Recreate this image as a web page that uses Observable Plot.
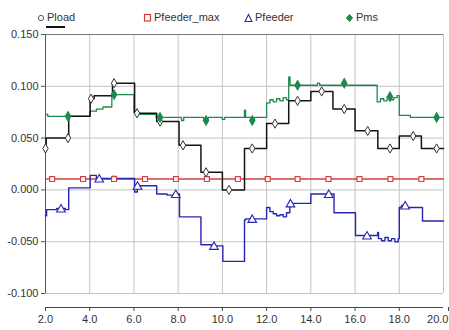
<!DOCTYPE html>
<html>
<head>
<meta charset="utf-8">
<script src="https://cdn.jsdelivr.net/npm/d3@7"></script>
<script src="https://cdn.jsdelivr.net/npm/@observablehq/plot@0.6"></script>
<style>
  html, body { margin: 0; padding: 0; background: #fff; }
  #wrap { width: 449px; height: 330px; position: relative; overflow: hidden; }
  #legend { position: relative; height: 26px; font-family: "Liberation Sans Narrow", "Arial Narrow", "Liberation Sans", Arial, sans-serif; font-size: 11px; color: #333; }
  .item { position: absolute; top: 10px; line-height: 14px; white-space: nowrap; }
  .item svg { vertical-align: -2px; margin-right: 2px; }
  #ul { position: absolute; left: 46px; top: 26px; width: 19px; height: 2px; background: #111; }
</style>
</head>
<body>
<div id="wrap">
  <div id="legend">
    <div class="item" style="left:37px"><svg width="8" height="10"><circle cx="4" cy="5" r="2.6" fill="#fff" stroke="#555" stroke-width="1"/></svg>Pload</div>
    <div id="ul"></div>
    <div class="item" style="left:143px"><svg width="9" height="10"><rect x="1.5" y="1.5" width="6" height="6.5" fill="#fff" stroke="#d23a3a" stroke-width="1.2"/></svg>Pfeeder_max</div>
    <div class="item" style="left:244px"><svg width="9" height="10"><path d="M4.5,1.5 L8,8.5 L1,8.5 Z" fill="#fff" stroke="#2a2aa8" stroke-width="1.1"/></svg>Pfeeder</div>
    <div class="item" style="left:345px"><svg width="9" height="10"><path d="M4.5,1.5 L7.5,5 L4.5,8.5 L1.5,5 Z" fill="#1b8a4c" stroke="#1b8a4c"/></svg>Pms</div>
  </div>
  <div id="chart"></div>
</div>
<script>
// ---- data ----
const xTicks = [2, 4, 6, 8, 10, 12, 14, 16, 18, 20];
const yTicks = [-0.1, -0.05, 0, 0.05, 0.1, 0.15];

// Pload (step breakpoints)
const ploadT = [2.0, 2.03, 3.05, 4.02, 4.2, 5.03, 6.03, 7.03, 8.04, 9.03, 10.0, 11.0, 12.0, 13.0, 14.0, 15.0, 16.0, 17.03, 18.0, 19.0, 20.0];
const ploadV = [0.040, 0.050, 0.071, 0.088, 0.091, 0.103, 0.074, 0.066, 0.043, 0.017, 0.000, 0.040, 0.064, 0.086, 0.095, 0.078, 0.057, 0.040, 0.052, 0.040, 0.040];
const ploadMarkT = [2.0, 3.02, 4.06, 5.1, 6.14, 7.18, 8.22, 9.26, 10.3, 11.35, 12.38, 13.4, 14.49, 15.51, 16.57, 17.58, 18.63, 19.69];

// Pfeeder_max
const pmaxT = [2.0, 20.0];
const pmaxV = [0.0105, 0.0105];
const pmaxMarkT = [2.3, 3.7, 5.1, 6.5, 7.9, 9.3, 10.7, 12.05, 13.4, 14.8, 16.2, 17.6, 19.0];

// Pfeeder
const pfeedT = [2.0, 2.05, 2.5, 2.9, 3.05, 4.02, 4.3, 5.0, 5.2, 6.03, 6.15, 7.03, 7.5, 7.8, 8.06, 9.03, 9.5, 10.02, 11.0, 11.05, 12.0, 12.15, 12.3, 12.45, 12.6, 12.75, 12.9, 13.05, 14.0, 15.05, 16.02, 17.02, 17.06, 17.2, 17.35, 17.5, 17.65, 17.8, 17.95, 18.0, 18.1, 18.35, 19.05, 20.0];
const pfeedV = [-0.025, -0.019, -0.018, -0.019, 0.002, 0.014, 0.011, 0.013, 0.011, -0.002, 0.004, -0.004, -0.005, -0.004, -0.026, -0.053, -0.054, -0.069, -0.029, -0.028, -0.017, -0.021, -0.023, -0.025, -0.024, -0.026, -0.022, -0.013, -0.004, -0.022, -0.044, -0.041, -0.047, -0.049, -0.046, -0.049, -0.047, -0.050, -0.047, -0.017, -0.015, -0.017, -0.030, -0.030];
const pfeedMarkT = [2.7, 4.43, 6.16, 7.89, 9.62, 11.35, 13.08, 14.81, 16.54, 18.27];

// Pms
const pmsT = [2.0, 2.1, 4.0, 4.3, 4.6, 5.0, 6.0, 6.2, 7.0, 8.15, 8.25, 9.15, 9.35, 10.0, 10.1, 11.0, 11.05, 11.3, 11.45, 12.0, 12.15, 12.3, 12.45, 12.6, 12.75, 12.9, 13.0, 13.06, 14.3, 14.4, 15.5, 15.6, 17.0, 17.15, 17.3, 17.45, 17.6, 17.75, 17.9, 18.0, 18.5, 20.0];
const pmsV = [0.073, 0.071, 0.076, 0.078, 0.080, 0.092, 0.075, 0.073, 0.070, 0.067, 0.070, 0.067, 0.070, 0.068, 0.070, 0.077, 0.070, 0.067, 0.070, 0.084, 0.087, 0.085, 0.088, 0.086, 0.089, 0.087, 0.109, 0.101, 0.103, 0.101, 0.103, 0.101, 0.085, 0.088, 0.086, 0.090, 0.087, 0.089, 0.091, 0.072, 0.070, 0.070];
const pmsMarkT = [3.02, 5.1, 7.18, 9.26, 11.35, 13.4, 15.51, 17.58, 19.69];

// ---- helpers ----
const rows = (T, V) => T.map((t, i) => ({t, v: V[i]}));
function stepAt(T, V, t) { let v = V[0]; for (let i = 0; i < T.length; i++) if (T[i] <= t) v = V[i]; return v; }
const marks = (MT, T, V) => MT.map(t => ({t, v: stepAt(T, V, t)}));

const cBlack = "#151515", cRed = "#d94040", cBlue = "#2626b0", cGreen = "#1c8a4e";
const font = '"Liberation Sans Narrow", "Arial Narrow", "Liberation Sans", Arial, sans-serif';

const chart = Plot.plot({
  width: 449,
  height: 304,
  marginTop: 8,
  marginBottom: 23,
  marginLeft: 45,
  marginRight: 6,
  style: {fontFamily: font, fontSize: "11px", color: "#333", background: "#fff"},
  x: {domain: [2, 20], axis: null},
  y: {domain: [-0.1135, 0.15], axis: null},
  marks: [
    Plot.gridY(yTicks, {x1: 2, x2: 20, stroke: "#c4c4c4", strokeOpacity: 1}),
    Plot.gridX(xTicks, {y1: -0.1, y2: 0.15, stroke: "#c4c4c4", strokeOpacity: 1}),
    Plot.ruleY([0.15], {x1: 2, x2: 20, stroke: "#777"}),
    Plot.ruleX([2], {y1: -0.1, y2: 0.15, stroke: "#555"}),
    Plot.axisY({ticks: yTicks, tickFormat: d => d.toFixed(3), tickSize: 4, tickPadding: 3, stroke: "#555", fill: "#333", label: null}),
    Plot.ruleY([-0.1135], {x1: 2, x2: 20, stroke: "#444", strokeWidth: 1.2}),
    Plot.axisX({ticks: xTicks.slice(0, -1), tickFormat: d => d.toFixed(1), tickSize: 4, tickPadding: 4, stroke: "#444", fill: "#333", label: null}),
    Plot.axisX({ticks: xTicks.slice(-1), tickFormat: d => d.toFixed(1), tickSize: 4, tickPadding: 4, stroke: "#444", fill: "#333", label: null, textAnchor: "end", dx: 5}),
    Plot.line(rows(pmaxT, pmaxV), {x: "t", y: "v", stroke: cRed, strokeWidth: 1.4}),
    Plot.line(rows(pmsT, pmsV), {x: "t", y: "v", curve: "step-after", stroke: cGreen, strokeWidth: 1.3}),
    Plot.line(rows(ploadT, ploadV), {x: "t", y: "v", curve: "step-after", stroke: cBlack, strokeWidth: 1.5}),
    Plot.line(rows(pfeedT, pfeedV), {x: "t", y: "v", curve: "step-after", stroke: cBlue, strokeWidth: 1.4}),
    Plot.dot(marks(pmaxMarkT, pmaxT, pmaxV), {x: "t", y: "v", symbol: "square", r: 2.8, stroke: cRed, fill: "#fff", strokeWidth: 1.2}),
    Plot.dot(marks(pfeedMarkT, pfeedT, pfeedV), {x: "t", y: "v", symbol: "triangle", r: 3.2, stroke: cBlue, fill: "#fff", strokeWidth: 1.1, dy: 1}),
    Plot.dot(marks(ploadMarkT, ploadT, ploadV), {x: "t", y: "v", symbol: "diamond", r: 2.8, stroke: "#333", fill: "#fff", strokeWidth: 1}),
    Plot.dot(marks(pmsMarkT, pmsT, pmsV), {x: "t", y: "v", symbol: "diamond", r: 2.6, fill: cGreen, stroke: cGreen})
  ]
});
document.getElementById("chart").appendChild(chart);
</script>
</body>
</html>
